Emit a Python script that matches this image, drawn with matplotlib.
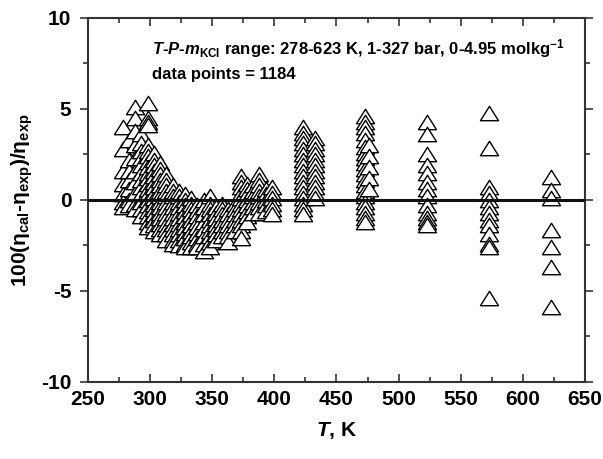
import matplotlib
matplotlib.use("Agg")
import matplotlib.pyplot as plt
from matplotlib.path import Path
from matplotlib.ticker import MultipleLocator

plt.rcParams['font.family'] = ['Liberation Sans', 'DejaVu Sans']
plt.rcParams['mathtext.fontset'] = 'custom'
plt.rcParams['mathtext.rm'] = 'Liberation Sans:bold'
plt.rcParams['mathtext.bf'] = 'Liberation Sans:bold'
plt.rcParams['mathtext.it'] = 'Liberation Sans:italic:bold'
plt.rcParams['axes.unicode_minus'] = False

# temperature of each group of points (K) and the deviations 100(eta_cal-eta_exp)/eta_exp
temps = [278, 283, 288, 293, 298, 303, 308, 313, 318, 323, 328, 333, 338, 343,
         348, 353, 358, 363, 368, 373, 378, 383, 388, 393, 398,
         423, 433, 473, 476, 523, 573, 623]
devs = [
    [4.0, 2.8, 1.6, 0.9, 0.3, -0.1, -0.4],
    [3.3, 2.2, 1.6, 1.1, 0.6, 0.0, -0.3],
    [5.1, 4.5, 3.8, 3.0, 2.3, 1.6, 1.0, 0.4, -0.2, -0.5],
    [3.6, 3.1, 2.7, 2.3, 1.9, 1.5, 1.1, 0.7, 0.3, -0.1, -0.5, -0.9],
    [5.3, 4.5, 4.3, 4.1, 3.0, 2.7, 2.4, 2.1, 1.8, 1.5, 1.2, 0.9, 0.6, 0.3,
     0.0, -0.3, -0.6, -0.9, -1.2, -1.5],
    [2.6, 2.2, 1.9, 1.6, 1.3, 1.0, 0.7, 0.4, 0.1, -0.2, -0.5, -0.8, -1.1, -1.4, -1.7],
    [2.0, 1.7, 1.4, 1.1, 0.8, 0.5, 0.2, -0.1, -0.4, -0.7, -1.0, -1.3, -1.6, -1.9],
    [1.4, 1.1, 0.8, 0.5, 0.2, -0.1, -0.4, -0.7, -1.0, -1.3, -1.6, -1.9, -2.2],
    [0.8, 0.5, 0.2, -0.1, -0.4, -0.7, -1.0, -1.3, -1.6, -1.9, -2.2, -2.4],
    [0.5, 0.2, -0.1, -0.4, -0.7, -1.0, -1.3, -1.6, -1.9, -2.2, -2.5],
    [0.3, 0.0, -0.3, -0.6, -0.9, -1.2, -1.5, -1.8, -2.1, -2.4, -2.6],
    [0.1, -0.2, -0.5, -0.8, -1.1, -1.4, -1.7, -2.0, -2.3, -2.6],
    [-0.3, -0.6, -0.9, -1.2, -1.5, -1.8, -2.1, -2.4, -2.6],
    [0.0, -0.4, -0.8, -1.2, -1.6, -2.0, -2.4, -2.8],
    [0.2, -0.2, -0.5, -0.8, -1.1, -1.4, -1.7, -2.0, -2.3, -2.6],
    [-0.4, -0.7, -1.0, -1.3, -1.6, -1.9, -2.2],
    [-0.2, -0.5, -0.8, -1.1, -1.4, -1.7, -2.0],
    [-0.5, -0.8, -1.1, -1.4, -1.7, -2.0, -2.3],
    [-0.2, -0.5, -0.8, -1.1, -1.4, -1.7],
    [1.3, 1.0, 0.7, 0.4, 0.1, -0.2, -0.5, -0.8, -1.1, -1.4, -1.7, -2.1],
    [0.9, 0.6, 0.3, 0.0, -0.3, -0.6, -0.9, -1.2],
    [0.8, 0.5, 0.2, -0.1, -0.4, -0.7],
    [1.4, 1.1, 0.8, 0.5, 0.2, -0.1, -0.4, -0.7],
    [0.6, 0.3, 0.0, -0.3, -0.6],
    [0.7, 0.4, 0.1, -0.2, -0.5, -0.8],
    [4.0, 3.7, 3.4, 3.1, 2.8, 2.5, 2.2, 1.9, 1.6, 1.3, 1.0, 0.7, 0.4, 0.1,
     -0.2, -0.5, -0.8],
    [3.4, 3.1, 2.8, 2.5, 2.2, 1.9, 1.6, 1.3, 1.0, 0.7, 0.4, 0.1],
    [4.6, 4.3, 4.0, 3.7, 3.3, 2.9, 2.6, 2.3, 2.0, 1.7, 1.4, 1.1, 0.8, 0.5,
     0.2, -0.1, -0.4, -0.7, -1.0, -1.2],
    [3.0, 2.4, 1.8, 1.2, 0.6],
    [4.3, 3.6, 2.5, 1.9, 1.5, 1.0, 0.6, 0.2, -0.3, -0.7, -1.0, -1.2, -1.4],
    [4.8, 2.85, 0.7, 0.4, 0.0, -0.4, -0.7, -1.1, -1.4, -1.9, -2.4, -2.6, -5.4],
    [1.25, 0.55, 0.1, -1.65, -2.6, -3.7, -5.9],
]

x = []
y = []
for t, d in zip(temps, devs):
    x += [t] * len(d)
    y += d

fig = plt.figure(figsize=(6.03, 4.59), dpi=100)
ax = fig.add_axes([0.146, 0.168, 0.824, 0.793])

# flattened open triangle like the original
tri = Path([(0, 0.8), (-1, -0.8), (1, -0.8), (0, 0.8)],
           [Path.MOVETO, Path.LINETO, Path.LINETO, Path.CLOSEPOLY])
ax.plot(x, y, linestyle='none', marker=tri, markersize=13,
        markerfacecolor='white', markeredgecolor='black', markeredgewidth=1.0)
ax.axhline(0, color='#111111', linewidth=2.2, zorder=5)

ax.set_xlim(250, 650)
ax.set_ylim(-10, 10)
ax.xaxis.set_major_locator(MultipleLocator(50))
ax.xaxis.set_minor_locator(MultipleLocator(25))
ax.yaxis.set_major_locator(MultipleLocator(5))
ax.yaxis.set_minor_locator(MultipleLocator(2.5))
ax.tick_params(which='both', top=True, right=True, width=1.2, color='#333333')
ax.tick_params(axis='x', which='both', direction='in')
ax.tick_params(axis='y', which='both', direction='out')
ax.tick_params(which='major', length=6, labelsize=15, pad=6)
ax.tick_params(which='minor', length=3.5)
for lab in ax.get_xticklabels() + ax.get_yticklabels():
    lab.set_fontweight('bold')
for sp in ax.spines.values():
    sp.set_linewidth(1.5)
    sp.set_color('#333333')

ax.set_xlabel(r'$T$, K', fontsize=15, fontweight='bold', labelpad=8)
ax.set_ylabel(r'100($\mathrm{\eta_{cal}}$-$\mathrm{\eta_{exp}}$)/$\mathrm{\eta_{exp}}$',
              fontsize=15, fontweight='bold', labelpad=4)

ax.text(0.128, 0.915,
        r'$T$-$P$-$m_{\mathrm{KCl}}$ range: 278-623 K, 1-327 bar, 0-4.95 molkg$^{-1}$',
        transform=ax.transAxes, fontsize=12, fontweight='bold', va='center')
ax.text(0.128, 0.845, 'data points = 1184', transform=ax.transAxes,
        fontsize=12, fontweight='bold', va='center')

fig.savefig('out.png', dpi=100)
